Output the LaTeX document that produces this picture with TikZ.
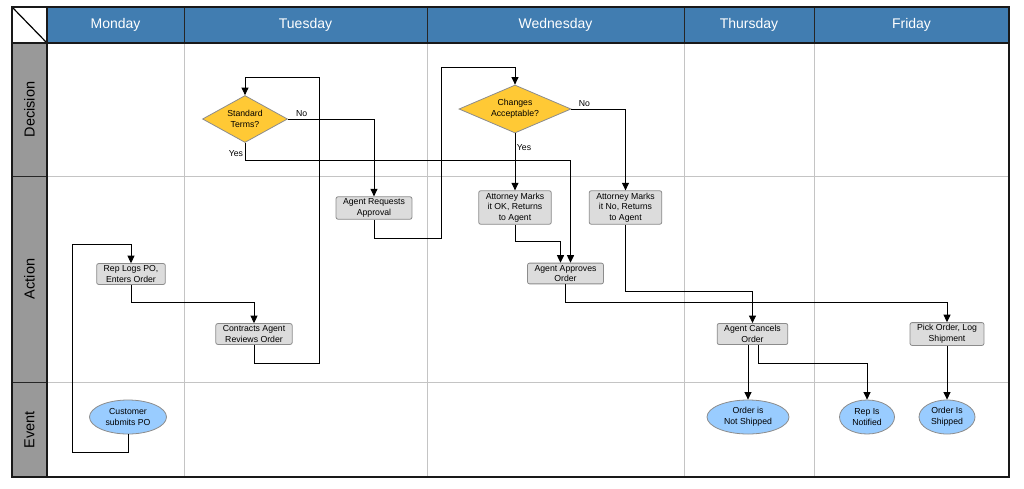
\documentclass[tikz,border=0pt]{standalone}
\usepackage{fontspec}
\setmainfont{Liberation Sans}
\usetikzlibrary{arrows.meta,shapes.geometric}
\definecolor{headblue}{HTML}{417DB1}
\definecolor{lanegray}{HTML}{999999}
\definecolor{gridgray}{HTML}{C4C4C4}
\definecolor{boxgray}{HTML}{DCDCDC}
\definecolor{decgold}{HTML}{FFC935}
\definecolor{eventblue}{HTML}{99CCFF}
\definecolor{edgegray}{HTML}{8C8C8C}
\begin{document}
\begin{tikzpicture}[x=1pt,y=-1pt,->,>={Triangle[length=7.5pt,width=7pt]},
                    line width=0.9pt,
                    every node/.style={font=\fontsize{8.7}{10.7}\selectfont},
                    action node/.style={rectangle,rounded corners=2pt,draw=edgegray,line width=0.8pt,
                                        fill=boxgray,align=center,inner xsep=7pt,inner ysep=2pt},
                    decision node/.style={diamond,draw=edgegray,line width=0.8pt,fill=decgold,
                                          align=center,inner sep=0pt,aspect=1.8},
                    event node/.style={ellipse,draw=edgegray,line width=0.8pt,fill=eventblue,
                                       align=center,inner sep=0pt,minimum height=34pt},
                    day node/.style={text=white,font=\fontsize{14}{16}\selectfont},
                    lane node/.style={rotate=90,font=\fontsize{14.5}{16}\selectfont},
                    branch/.style={inner sep=1.5pt}]

  \useasboundingbox (0,0) rectangle (1024,488);

  % swimlane grid
  \begin{scope}[-]
    \fill[white] (12,7) rectangle (1009,477);
    \fill[headblue] (47,7) rectangle (1009,43);
    \fill[lanegray] (12,43) rectangle (47,477);
    \draw[gridgray,line width=0.8pt] (184,43) -- (184,477) (427,43) -- (427,477)
      (684,43) -- (684,477) (814,43) -- (814,477)
      (47,176) -- (1009,176) (47,382) -- (1009,382);
    \draw[black!85,line width=0.9pt] (184,7) -- (184,43) (427,7) -- (427,43)
      (684,7) -- (684,43) (814,7) -- (814,43)
      (12,176) -- (47,176) (12,382) -- (47,382);
    \draw[black,line width=1.2pt] (12,7) -- (47,43);
    \draw[black!90,line width=1.6pt] (12,43) -- (1009,43) (47,7) -- (47,477);
    \draw[black!90,line width=2pt] (12,7) rectangle (1009,477);
  \end{scope}

  \node[day node] (mon) at (115.5,24.5) {Monday};
  \node[day node] (tue) at (305.5,24.5) {Tuesday};
  \node[day node] (wed) at (555.5,24.5) {Wednesday};
  \node[day node] (thu) at (749,24.5) {Thursday};
  \node[day node] (fri) at (911.5,24.5) {Friday};

  \node[lane node] (decision) at (29.5,109.5) {Decision};
  \node[lane node] (action) at (29.5,279) {Action};
  \node[lane node] (event) at (29.5,429.5) {Event};

  % process nodes
  \node[event node,minimum width=77pt] (customer) at (128,417) {Customer\\submits PO};
  \node[action node] (replogs) at (131,274) {Rep Logs PO,\\Enters Order};
  \node[action node] (reviews) at (254,334) {Contracts Agent\\Reviews Order};
  \node[decision node,minimum width=85pt,minimum height=47pt] (terms) at (245,119) {Standard\\Terms?};
  \node[action node] (requests) at (374,208) {Agent Requests\\Approval};
  \node[decision node,minimum width=112pt,minimum height=48pt] (changes) at (515,109) {Changes\\Acceptable?};
  \node[action node] (markok) at (515,207.5) {Attorney Marks\\it OK, Returns\\to Agent};
  \node[action node] (markno) at (625.5,207.5) {Attorney Marks\\it No, Returns\\to Agent};
  \node[action node] (approves) at (565.5,273.5) {Agent Approves\\Order};
  \node[action node] (cancels) at (752.5,334) {Agent Cancels\\Order};
  \node[action node] (pick) at (947,334) {Pick Order, Log\\Shipment};
  \node[event node,minimum width=82pt] (notshipped) at (748,417) {Order is\\Not Shipped};
  \node[event node,minimum width=55pt] (notified) at (867,417) {Rep Is\\Notified};
  \node[event node,minimum width=56pt] (shipped) at (947,417) {Order Is\\Shipped};

  \coordinate (mloopbot) at (72,452);
  \coordinate (mlooptop) at (72,244);
  \coordinate (tloopbot) at (319,363);
  \coordinate (tlooptop) at (319,77);
  \coordinate (wloopbot) at (441,238);
  \coordinate (wlooptop) at (441,67);

  % connectors
  \draw (customer.south) |- (mloopbot) -- (mlooptop) -| (replogs.north);
  \draw (replogs.south) -- ++(0,18) -| (reviews.north);
  \draw (reviews.south) |- (tloopbot) -- (tlooptop) -| (terms.north);
  \draw (terms.east) -| node[branch,pos=0.08,above] {No} (requests.north);
  \draw (terms.south) -- ++(0,18) node[branch,pos=0.6,left] {Yes} -| ([xshift=5pt]approves.north);
  \draw (requests.south) |- (wloopbot) -- (wlooptop) -| (changes.north);
  \draw (changes.east) -| node[branch,pos=0.12,above] {No} (markno.north);
  \draw (changes.south) -- node[branch,pos=0.25,right] {Yes} (markok.north);
  \draw (markok.south) -- ++(0,17) -| ([xshift=-5pt]approves.north);
  \draw (markno.south) -- ++(0,67) -| (cancels.north);
  \draw (approves.south) -- ++(0,18) -| (pick.north);
  \draw ([xshift=-4.5pt]cancels.south) -- (notshipped.north);
  \draw ([xshift=5.5pt]cancels.south) -- ++(0,18) -| (notified.north);
  \draw (pick.south) -- (shipped.north);
\end{tikzpicture}
\end{document}
